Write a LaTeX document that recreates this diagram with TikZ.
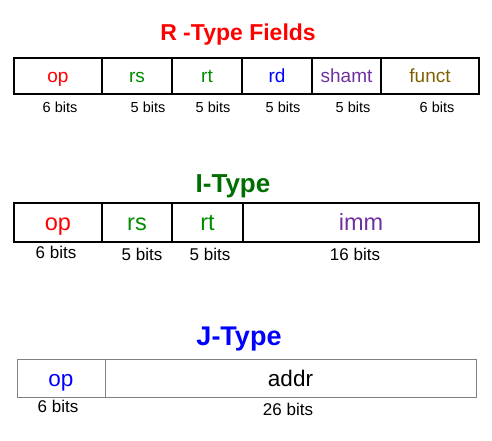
\documentclass[tikz,border=0pt]{standalone}
\usepackage{fontspec}
\setmainfont{Liberation Sans}
\usepackage{tikz}
\usetikzlibrary{positioning}

\definecolor{fgreen}{RGB}{0,140,0}
\definecolor{dgreen}{RGB}{0,110,0}
\definecolor{fpurple}{RGB}{112,48,160}
\definecolor{folive}{RGB}{128,96,0}

\newcommand{\fsz}[1]{\fontsize{#1}{#1}\selectfont}

\tikzset{
    field/.style={draw=black, line width=1.2pt, inner sep=0pt, minimum height=#1, text depth=0pt},
    field/.default=36pt,
    rfield/.style={field, font=\fsz{19}, text height=13.6pt},
    ifield/.style={field=39pt, font=\fsz{23.5}, text height=16.8pt},
    jfield/.style={field=38pt, draw=gray, line width=0.9pt, font=\fsz{22.5}, text height=16.1pt},
    bits/.style={font=\fsz{14.5}, inner sep=0pt, anchor=base},
    title/.style={inner sep=0pt, anchor=base}
}

\begin{document}
\begin{tikzpicture}[x=1pt, y=-1pt]
        \useasboundingbox (0,0) rectangle (492,440);

        % R-type
        \node[title, text=red, font=\fsz{23}\bfseries] (rtitle) at (238,40.7) {R -Type Fields};
        \node[rfield, minimum width=88pt, text=red] (rop) at (58,76) {op};
        \node[rfield, minimum width=70pt, text=fgreen] (rrs) at (137,76) {rs};
        \node[rfield, minimum width=70pt, text=fgreen] (rrt) at (207,76) {rt};
        \node[rfield, minimum width=70pt, text=blue] (rrd) at (277,76) {rd};
        \node[rfield, minimum width=69pt, text=fpurple] (rsh) at (346.5,76) {shamt};
        \node[rfield, minimum width=98pt, text=folive] (rfn) at (430,76) {funct};
        \node[bits] (rb1) at (60,112.5) {6 bits};
        \node[bits] (rb2) at (148,112.5) {5 bits};
        \node[bits] (rb3) at (213,112.5) {5 bits};
        \node[bits] (rb4) at (283,112.5) {5 bits};
        \node[bits] (rb5) at (353,112.5) {5 bits};
        \node[bits] (rb6) at (437,112.5) {6 bits};

        % I-type
        \node[title, text=dgreen, font=\fsz{26}\bfseries] (ititle) at (233,192) {I-Type};
        \node[ifield, minimum width=88pt, text=red] (iop) at (58,222.5) {op};
        \node[ifield, minimum width=70pt, text=fgreen] (irs) at (137,222.5) {rs};
        \node[ifield, minimum width=71pt, text=fgreen] (irt) at (207.5,222.5) {rt};
        \node[ifield, minimum width=236pt, text=fpurple] (iimm) at (361,222.5) {imm};
        \node[bits, font=\fsz{17}] (ib1) at (56,258) {6 bits};
        \node[bits, font=\fsz{17}] (ib2) at (142,260) {5 bits};
        \node[bits, font=\fsz{17}] (ib3) at (210,260) {5 bits};
        \node[bits, font=\fsz{17}] (ib4) at (355,260) {16 bits};

        % J-type
        \node[title, text=blue, font=\fsz{27}\bfseries] (jtitle) at (239,345) {J-Type};
        \node[jfield, minimum width=88pt, text=blue] (jop) at (61,378) {op};
        \node[jfield, minimum width=371pt] (jaddr) at (290.5,378) {addr};
        \node[bits, font=\fsz{17}] (jb1) at (58,412.5) {6 bits};
        \node[bits, font=\fsz{17}] (jb2) at (288,415) {26 bits};
    \end{tikzpicture}
\end{document}
